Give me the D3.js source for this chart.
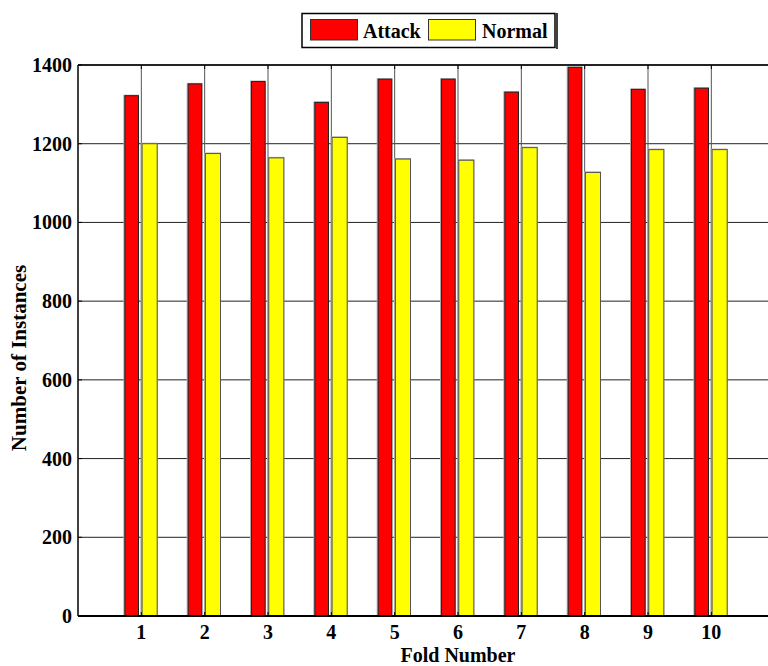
<!DOCTYPE html>
<html>
<head>
<meta charset="utf-8">
<script src="https://cdn.jsdelivr.net/npm/d3@7"></script>
<style>
  body { margin: 0; background: #fff; }
  svg { display: block; font-family: "Liberation Serif", "Times New Roman", serif; font-weight: bold; }
</style>
</head>
<body>
<svg width="768" height="666"></svg>
<script>
const folds = [1, 2, 3, 4, 5, 6, 7, 8, 9, 10];
const attack = [1322, 1352, 1358, 1305, 1364, 1364, 1331, 1394, 1338, 1341];
const normal = [1200, 1175, 1164, 1216, 1161, 1158, 1190, 1127, 1185, 1185];
const yTicks = [0, 200, 400, 600, 800, 1000, 1200, 1400];
const seriesNames = ['Attack', 'Normal'];
const seriesColors = ['#ff0000', '#ffff00'];

const svg = d3.select('svg');
const plotLeft = 78, plotTop = 65, plotBottom = 616, plotRight = 838;

const x = d3.scaleLinear().domain([0, 12]).range([plotLeft, plotRight]);
const y = d3.scaleLinear().domain([0, 1400]).range([plotBottom, plotTop]);

// grid
const grid = svg.append('g').attr('stroke', '#222').attr('stroke-width', 1);
grid.selectAll('line.h')
  .data(yTicks.slice(1))
  .enter().append('line')
  .attr('x1', plotLeft).attr('x2', plotRight)
  .attr('y1', d => y(d)).attr('y2', d => y(d));
grid.selectAll('line.v')
  .data(folds)
  .enter().append('line')
  .attr('stroke', '#555')
  .attr('x1', d => x(d)).attr('x2', d => x(d))
  .attr('y1', plotTop).attr('y2', plotBottom);

// bars
const data = folds.map((f, i) => ({ fold: f, attack: attack[i], normal: normal[i] }));
const bars = svg.append('g');
function drawBars(key, off0, off1, fill, stroke) {
  bars.selectAll('rect.s' + key)
    .data(data)
    .enter().append('rect')
    .attr('x', d => x(d.fold + off0) - 1.5)
    .attr('y', d => y(d[key]) - 1)
    .attr('width', d => x(d.fold + off1) - x(d.fold + off0) + 2)
    .attr('height', d => y(0) - y(d[key]) + 1)
    .attr('fill', '#aaa');
  bars.selectAll('rect.b' + key)
    .data(data)
    .enter().append('rect')
    .attr('x', d => x(d.fold + off0))
    .attr('y', d => y(d[key]))
    .attr('width', d => x(d.fold + off1) - x(d.fold + off0))
    .attr('height', d => y(0) - y(d[key]))
    .attr('fill', fill)
    .attr('stroke', stroke)
    .attr('stroke-width', 1);
}
drawBars('attack', -0.26, -0.045, seriesColors[0], '#222');
drawBars('normal', 0.012, 0.25, seriesColors[1], '#555');

// axes
const axes = svg.append('g').attr('stroke', '#000');
axes.append('line').attr('x1', plotLeft).attr('x2', plotLeft).attr('y1', plotTop).attr('y2', plotBottom).attr('stroke-width', 1.5);
axes.append('line').attr('x1', plotLeft).attr('x2', plotRight).attr('y1', plotBottom).attr('y2', plotBottom).attr('stroke-width', 2);
axes.append('line').attr('x1', plotLeft).attr('x2', plotRight).attr('y1', plotTop).attr('y2', plotTop).attr('stroke-width', 1.5);
axes.selectAll('line.tx')
  .data(folds)
  .enter().append('line')
  .attr('x1', d => x(d)).attr('x2', d => x(d))
  .attr('y1', plotTop).attr('y2', plotTop + 4);
axes.selectAll('line.tb')
  .data(folds)
  .enter().append('line')
  .attr('x1', d => x(d)).attr('x2', d => x(d))
  .attr('y1', plotBottom).attr('y2', plotBottom - 4);
axes.selectAll('line.ty')
  .data(yTicks)
  .enter().append('line')
  .attr('x1', plotLeft).attr('x2', plotLeft + 4)
  .attr('y1', d => y(d)).attr('y2', d => y(d));

// text is slightly stretched vertically in the reference
svg.append('g').selectAll('text')
  .data(yTicks)
  .enter().append('text')
  .attr('transform', d => `translate(${plotLeft - 6},${y(d) + 7}) scale(1,1.08)`)
  .attr('text-anchor', 'end')
  .style('font-size', '20px')
  .text(d => d);

svg.append('g').selectAll('text')
  .data(folds)
  .enter().append('text')
  .attr('transform', d => `translate(${x(d)},639) scale(1,1.08)`)
  .attr('text-anchor', 'middle')
  .style('font-size', '20px')
  .text(d => d);

svg.append('text')
  .attr('transform', `translate(${x(6)},662) scale(1,1.08)`)
  .attr('text-anchor', 'middle')
  .style('font-size', '20px')
  .text('Fold Number');

svg.append('text')
  .attr('transform', 'translate(26,358) rotate(-90)')
  .attr('text-anchor', 'middle')
  .style('font-size', '21px')
  .text('Number of Instances');

// legend
const lg = svg.append('g');
lg.append('line').attr('x1', 557).attr('x2', 557).attr('y1', 13).attr('y2', 49).attr('stroke', '#000').attr('stroke-width', 1.5);
lg.append('rect').attr('x', 302).attr('y', 13.5).attr('width', 253).attr('height', 34)
  .attr('fill', '#fff').attr('stroke', '#000').attr('stroke-width', 1.5);
const sw = [310.5, 428.5];
const tx = [363, 482];
seriesNames.forEach((n, i) => {
  lg.append('rect').attr('x', sw[i]).attr('y', 19.5).attr('width', 47).attr('height', 20.5)
    .attr('fill', seriesColors[i]).attr('stroke', '#333').attr('stroke-width', 1);
  lg.append('text').attr('transform', `translate(${tx[i]},38) scale(1,1.08)`).style('font-size', '20px').text(n);
});
</script>
</body>
</html>
